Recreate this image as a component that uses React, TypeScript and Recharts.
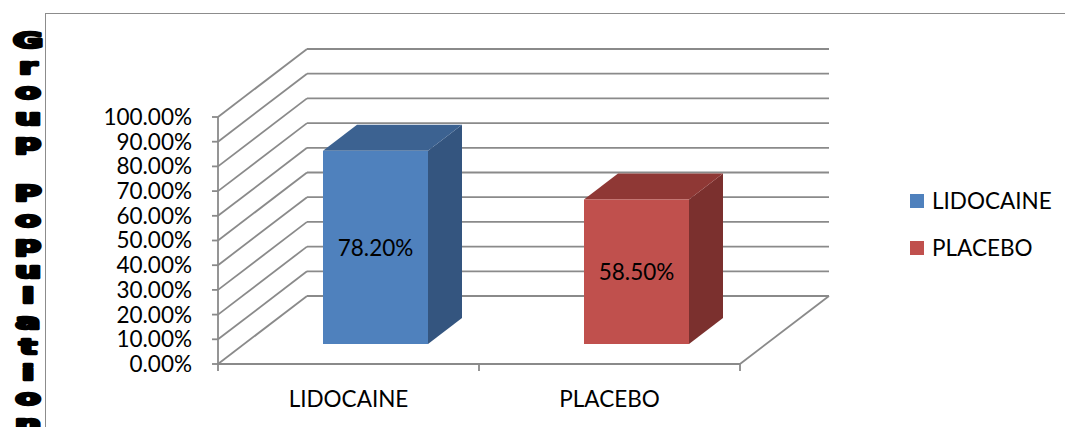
import React from "react";
import { BarChart, Bar, XAxis, YAxis, CartesianGrid, Legend, LabelList } from "recharts";

const categories = ["LIDOCAINE", "PLACEBO"];
const groupPopulation = [0.782, 0.585];
const yTicks = [0, 0.1, 0.2, 0.3, 0.4, 0.5, 0.6, 0.7, 0.8, 0.9, 1];
const axisTitle = "Group Population";

const data = categories.map((name, i) => ({ name, value: groupPopulation[i] }));

const W = 1065;
const H = 427;
const FONT = "Lato, 'Open Sans', sans-serif";
const GRID = "#8a8a8a";

// face colours per category: front, top, side
const FRONT = ["#4F81BD", "#C0504D"];
const TOP = ["#3C6291", "#8F3835"];
const SIDE = ["#34557F", "#7B302E"];

// perspective offset of the back wall relative to the front edge
const DEPTH_X = 89;
const DEPTH_Y = -68;
// bars stand a little behind the front edge of the floor
const BAR_OFF_X = 27;
const BAR_OFF_Y = -20;
// bar thickness along the depth
const BAR_DX = 34;
const BAR_DY = -26;

const pct = (v: number) => `${(v * 100).toFixed(2)}%`;

// one gridline: diagonal on the side wall + horizontal on the back wall
const WallLine = (props: any) => {
  const { x1, x2, y1, y, height, index } = props;
  const isFloor = Math.abs(y1 - (y + height)) < 0.5;
  return (
    <g key={`wall-${index}`} stroke={GRID} strokeWidth={1.8} fill="none">
      <line x1={x1} y1={y1} x2={x1 + DEPTH_X} y2={y1 + DEPTH_Y} />
      <line x1={x1 + DEPTH_X} y1={y1 + DEPTH_Y} x2={x2 + DEPTH_X} y2={y1 + DEPTH_Y} />
      {isFloor && <line x1={x2} y1={y1} x2={x2 + DEPTH_X} y2={y1 + DEPTH_Y} />}
    </g>
  );
};

const Box3D = (props: any) => {
  const { x, y, width, height, index } = props;
  if (!height || height <= 0) return null;
  const fx = x + BAR_OFF_X;
  const fy = y + BAR_OFF_Y;
  const top = `${fx},${fy} ${fx + width},${fy} ${fx + width + BAR_DX},${fy + BAR_DY} ${fx + BAR_DX},${fy + BAR_DY}`;
  const side = `${fx + width},${fy} ${fx + width + BAR_DX},${fy + BAR_DY} ${fx + width + BAR_DX},${fy + height + BAR_DY} ${fx + width},${fy + height}`;
  return (
    <g>
      <polygon points={side} fill={SIDE[index]} />
      <polygon points={top} fill={TOP[index]} />
      <rect x={fx} y={fy} width={width} height={height} fill={FRONT[index]} />
    </g>
  );
};

const BoxLabel = (props: any) => {
  const vb = props.viewBox ?? props;
  const { x, y, width, height } = vb;
  return (
    <text
      x={x + BAR_OFF_X + width / 2}
      y={y + BAR_OFF_Y + height / 2}
      textAnchor="middle"
      dominantBaseline="central"
      fontFamily={FONT}
      fontSize={22.5}
      fill="#000"
    >
      {pct(props.value)}
    </text>
  );
};

const CategoryTick = (props: any) => {
  const { x, y, payload, index } = props;
  const half = (W - 325 - 218) / categories.length / 2;
  return (
    <g>
      <line x1={x - half} y1={y} x2={x - half} y2={y + 7} stroke={GRID} strokeWidth={1.8} />
      {index === categories.length - 1 && (
        <line x1={x + half} y1={y} x2={x + half} y2={y + 7} stroke={GRID} strokeWidth={1.8} />
      )}
      <text x={x} y={y + 34} textAnchor="middle" dominantBaseline="central" fontFamily={FONT} fontSize={22.5} fill="#000">
        {payload.value}
      </text>
    </g>
  );
};

// stacked upright letters, Excel-style vertical title
const AxisTitle = () => (
  <g>
    {axisTitle.split("").map((ch, i) => (
      <text
        key={i}
        transform={`translate(28, ${48 + i * 25.5}) scale(1.75, 1)`}
        textAnchor="middle"
        fontFamily="'DejaVu Sans', sans-serif"
        fontWeight="bold"
        fontSize={21}
        fill="#000"
        stroke="#000"
        strokeWidth={2.6}
        strokeLinejoin="round"
      >
        {ch}
      </text>
    ))}
  </g>
);

const LegendBox = () => (
  <div style={{ fontFamily: FONT, fontSize: 22.5, color: "#000" }}>
    {categories.map((c, i) => (
      <div key={c} style={{ display: "flex", alignItems: "center", height: 47 }}>
        <span style={{ width: 14, height: 14, background: FRONT[i], marginRight: 8, display: "inline-block" }} />
        {c}
      </div>
    ))}
  </div>
);

export default function App() {
  return (
    <div style={{ position: "absolute", left: 0, top: 0, width: W, height: H, overflow: "hidden", background: "#fff" }}>
      <div
        style={{
          position: "absolute",
          left: 45,
          top: 13,
          width: W,
          height: H,
          borderLeft: "1.5px solid #8c8c8c",
          borderTop: "1.5px solid #8c8c8c",
        }}
      />
      <div style={{ position: "absolute", left: 0, top: 0 }}>
        <BarChart width={W} height={H} data={data} margin={{ top: 117, right: 325, bottom: 0, left: 0 }}>
          <CartesianGrid vertical={false} horizontal={WallLine} />
          <XAxis
            dataKey="name"
            height={63}
            interval={0}
            tickSize={0}
            tickMargin={0}
            tickLine={false}
            axisLine={{ stroke: GRID, strokeWidth: 1.8 }}
            tick={<CategoryTick />}
          />
          <YAxis
            type="number"
            domain={[0, 1]}
            ticks={yTicks}
            interval={0}
            width={218}
            tickFormatter={pct}
            tickSize={6}
            tickMargin={20}
            axisLine={{ stroke: GRID, strokeWidth: 1.8 }}
            tickLine={{ stroke: GRID, strokeWidth: 1.8 }}
            tick={{ fill: "#000", fontSize: 22.5, fontFamily: FONT }}
            label={<AxisTitle />}
          />
          <Legend
            layout="vertical"
            align="center"
            verticalAlign="middle"
            content={<LegendBox />}
            wrapperStyle={{ left: 910, top: 177, width: 150 }}
          />
          <Bar dataKey="value" barSize={105} isAnimationActive={false} shape={<Box3D />}>
            <LabelList dataKey="value" content={<BoxLabel />} />
          </Bar>
        </BarChart>
      </div>
    </div>
  );
}
